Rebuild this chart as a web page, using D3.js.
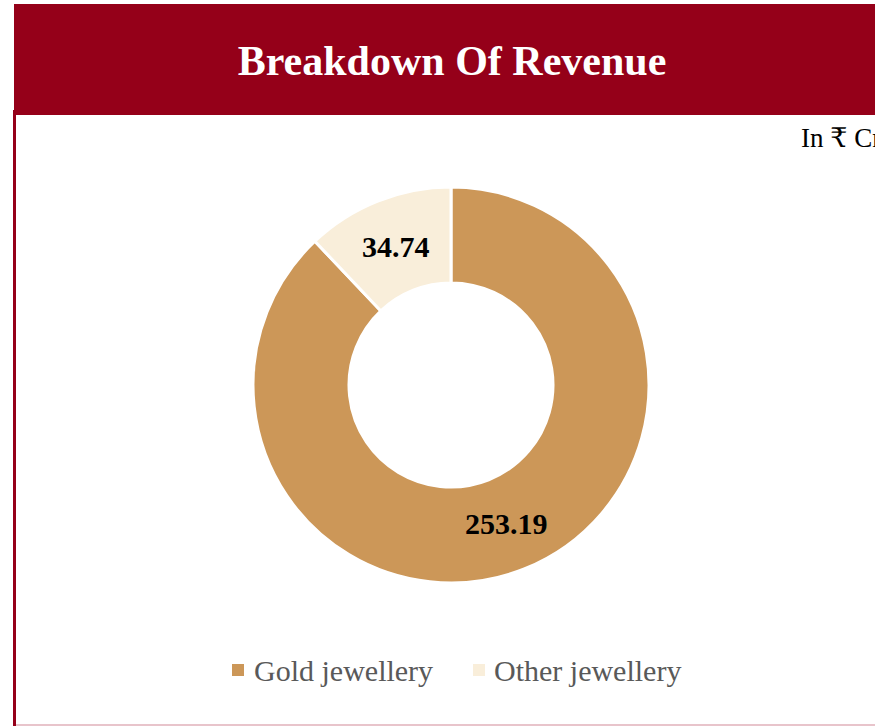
<!DOCTYPE html>
<html>
<head>
<meta charset="utf-8">
<script src="https://cdn.jsdelivr.net/npm/d3@7"></script>
<style>
  html, body { margin: 0; padding: 0; background: #ffffff; overflow: hidden; }
  svg { display: block; }
</style>
</head>
<body>
<svg id="chart" width="875" height="726"></svg>
<script>
// Revenue split, in ₹ Crore
const categories = ["Gold jewellery", "Other jewellery"];
const values = [253.19, 34.74];
const colors = ["#CC9758", "#F9EEDA"];
const title = "Breakdown Of Revenue";
const unitLabel = "In ₹ Cr";

const W = 875, H = 726;
const serif = "'Liberation Serif', 'DejaVu Serif', serif";
const svg = d3.select("#chart");

// Panel frame: left rule and faint bottom rule
svg.append("rect").attr("x", 13).attr("y", 110).attr("width", 3).attr("height", H - 110)
  .attr("fill", "#950019");
svg.append("rect").attr("x", 16).attr("y", 724).attr("width", W - 16).attr("height", 2)
  .attr("fill", "#E8C4CB");

// Header band
svg.append("rect").attr("x", 14).attr("y", 4).attr("width", W - 14).attr("height", 111)
  .attr("fill", "#950019");
svg.append("text").attr("x", 452).attr("y", 75)
  .attr("text-anchor", "middle")
  .attr("font-family", serif).attr("font-weight", "bold").attr("font-size", 42)
  .attr("fill", "#ffffff").text(title);

// Unit note
svg.append("text").attr("x", 801).attr("y", 147)
  .attr("font-family", serif).attr("font-size", 27)
  .attr("fill", "#000000").text(unitLabel);

// Donut
const cx = 451, cy = 385, rOuter = 198, rInner = 102;
const data = categories.map((c, i) => ({ name: c, value: values[i], color: colors[i] }));
const pie = d3.pie().value(d => d.value).sort(null);
const arc = d3.arc().innerRadius(rInner).outerRadius(rOuter);
const g = svg.append("g").attr("transform", `translate(${cx},${cy})`);
const arcs = pie(data);

g.selectAll("path").data(arcs).enter().append("path")
  .attr("d", arc)
  .attr("fill", d => d.data.color)
  .attr("stroke", "#ffffff").attr("stroke-width", 3);

// Value labels centred on the ring
const labelArc = d3.arc().innerRadius(149).outerRadius(149);
g.selectAll("text.val").data(arcs).enter().append("text")
  .attr("class", "val")
  .attr("transform", d => `translate(${labelArc.centroid(d)})`)
  .attr("text-anchor", "middle")
  .attr("dy", "0.35em")
  .attr("font-family", serif).attr("font-weight", "bold").attr("font-size", 30)
  .attr("fill", "#000000")
  .text(d => d3.format(".2f")(d.data.value));

// Legend
const legendItems = [{ x: 232, tx: 254 }, { x: 473, tx: 494 }];
const lg = svg.append("g");
data.forEach((d, i) => {
  lg.append("rect").attr("x", legendItems[i].x).attr("y", 664)
    .attr("width", 12).attr("height", 12).attr("fill", d.color);
  lg.append("text").attr("x", legendItems[i].tx).attr("y", 681)
    .attr("font-family", serif).attr("font-size", 30)
    .attr("fill", "#595959").text(d.name);
});
</script>
</body>
</html>
